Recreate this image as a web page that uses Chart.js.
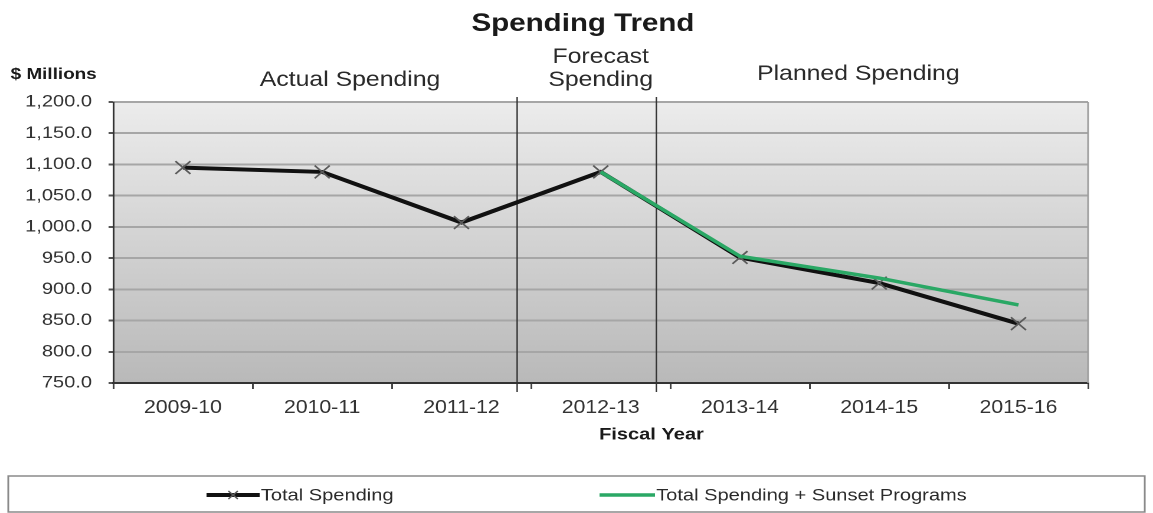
<!DOCTYPE html>
<html>
<head>
<meta charset="utf-8">
<script src="https://cdn.jsdelivr.net/npm/chart.js@4"></script>
<style>
  body { margin: 0; background: #fff; }
  canvas { display: block; }
</style>
</head>
<body>
<canvas id="spendChart" width="977" height="513" style="width:1153px;height:513px"></canvas>
<script>
// data
const years = ['2009-10', '2010-11', '2011-12', '2012-13', '2013-14', '2014-15', '2015-16'];
const totalSpending = [1095, 1088, 1007, 1088, 951, 910, 845];
const withSunset = [null, null, null, 1088, 953, 918, 875];
const yMin = 750;
const yMax = 1200;
const yStep = 50;
const sectionNames = [['Actual Spending'], ['Forecast', 'Spending'], ['Planned Spending']];
const seriesNames = ['Total Spending', 'Total Spending + Sunset Programs'];

const FONT = '"Liberation Sans", Arial, sans-serif';

const decor = {
  id: 'decor',
  beforeDraw(chart) {
    const { ctx, chartArea: a } = chart;
    ctx.save();
    ctx.fillStyle = '#fff';
    ctx.fillRect(0, 0, chart.width, chart.height);
    const g = ctx.createLinearGradient(0, a.top, 0, a.bottom);
    g.addColorStop(0, '#ececec');
    g.addColorStop(1, '#b9b9b9');
    ctx.fillStyle = g;
    ctx.fillRect(a.left, a.top, a.right - a.left, a.bottom - a.top);
    ctx.restore();
  },
  beforeDatasetsDraw(chart) {
    const { ctx, chartArea: a, scales: { x } } = chart;
    ctx.save();
    // right border of the plot
    ctx.strokeStyle = '#9d9d9d';
    ctx.lineWidth = 1.5;
    ctx.beginPath();
    ctx.moveTo(a.right, a.top);
    ctx.lineTo(a.right, a.bottom);
    ctx.stroke();
    // section dividers
    ctx.strokeStyle = '#333';
    ctx.lineWidth = 1.2;
    [2.4, 3.4].forEach(v => {
      const px = x.getPixelForValue(v);
      ctx.beginPath();
      ctx.moveTo(px, a.top - 5);
      ctx.lineTo(px, a.bottom + 9);
      ctx.stroke();
    });
    ctx.restore();
  },
  afterDraw(chart) {
    const { ctx, scales: { x } } = chart;
    ctx.save();
    ctx.fillStyle = '#1a1a1a';
    ctx.textAlign = 'center';
    ctx.textBaseline = 'alphabetic';
    ctx.font = 'bold 25px ' + FONT;
    ctx.fillText('Spending Trend', 494, 31);

    ctx.textAlign = 'left';
    ctx.font = 'bold 16px ' + FONT;
    ctx.fillText('$ Millions', 9, 79);

    // section headings
    ctx.fillStyle = '#2a2a2a';
    ctx.textAlign = 'center';
    ctx.font = '21px ' + FONT;
    ctx.fillText(sectionNames[0][0], x.getPixelForValue(1.2), 86);
    ctx.fillText(sectionNames[1][0], x.getPixelForValue(3.0), 63);
    ctx.fillText(sectionNames[1][1], x.getPixelForValue(3.0), 86);
    ctx.fillText(sectionNames[2][0], x.getPixelForValue(4.85), 80);

    ctx.fillStyle = '#1a1a1a';
    ctx.font = 'bold 17px ' + FONT;
    ctx.textBaseline = 'middle';
    ctx.fillText('Fiscal Year', 552, 435);

    // legend box
    ctx.strokeStyle = '#8a8a8a';
    ctx.lineWidth = 1.5;
    ctx.strokeRect(7, 476, 963, 36);
    const ds = chart.data.datasets;
    const items = [
      { d: ds[1], x0: 175, x1: 220 },
      { d: ds[0], x0: 508, x1: 555 }
    ];
    ctx.font = '17px ' + FONT;
    ctx.textAlign = 'left';
    ctx.fillStyle = '#2a2a2a';
    items.forEach(it => {
      ctx.strokeStyle = it.d.borderColor;
      ctx.lineWidth = it.d.borderWidth;
      ctx.beginPath();
      ctx.moveTo(it.x0, 495);
      ctx.lineTo(it.x1, 495);
      ctx.stroke();
      if (it.d.pointRadius > 0) {
        const m = (it.x0 + it.x1) / 2, r = 4;
        ctx.strokeStyle = it.d.pointBorderColor;
        ctx.lineWidth = 1.3;
        ctx.beginPath();
        ctx.moveTo(m - r, 495 - r); ctx.lineTo(m + r, 495 + r);
        ctx.moveTo(m + r, 495 - r); ctx.lineTo(m - r, 495 + r);
        ctx.stroke();
      }
      ctx.fillText(it.d.label, it.x1 + 1, 496);
    });
    ctx.restore();
  }
};

new Chart(document.getElementById('spendChart'), {
  type: 'line',
  data: {
    labels: years,
    datasets: [
      {
        label: seriesNames[1],
        data: withSunset,
        borderColor: '#2aa865',
        borderWidth: 3.5,
        pointRadius: 0,
        spanGaps: false,
        order: 0
      },
      {
        label: seriesNames[0],
        data: totalSpending,
        borderColor: '#111',
        borderWidth: 4,
        pointStyle: 'crossRot',
        pointRadius: 9,
        pointBorderColor: '#5a5a5a',
        pointBorderWidth: 1.6,
        order: 1
      }
    ]
  },
  options: {
    responsive: false,
    animation: false,
    devicePixelRatio: 2,
    layout: { padding: { top: 102, right: 55, left: 0, bottom: 0 } },
    plugins: {
      legend: { display: false },
      tooltip: { enabled: false }
    },
    scales: {
      x: {
        offset: true,
        grid: { display: true, drawOnChartArea: false, offset: true, tickLength: 6, color: '#444', lineWidth: 1.5 },
        border: { color: '#333', width: 2 },
        ticks: { font: { family: FONT, size: 18 }, color: '#333', padding: 8, maxRotation: 0, autoSkip: false },
        afterFit(s) { s.height = 130; }
      },
      y: {
        min: yMin,
        max: yMax,
        grid: { color: '#a6a6a6', lineWidth: 2, tickLength: 4, tickColor: '#555' },
        border: { color: '#333', width: 1.5 },
        ticks: {
          stepSize: yStep,
          font: { family: FONT, size: 17 },
          color: '#333',
          padding: 14,
          callback: v => v.toLocaleString('en-US', { minimumFractionDigits: 1, maximumFractionDigits: 1 })
        },
        afterFit(s) { s.width = 96; }
      }
    }
  },
  plugins: [decor]
});
</script>
</body>
</html>
